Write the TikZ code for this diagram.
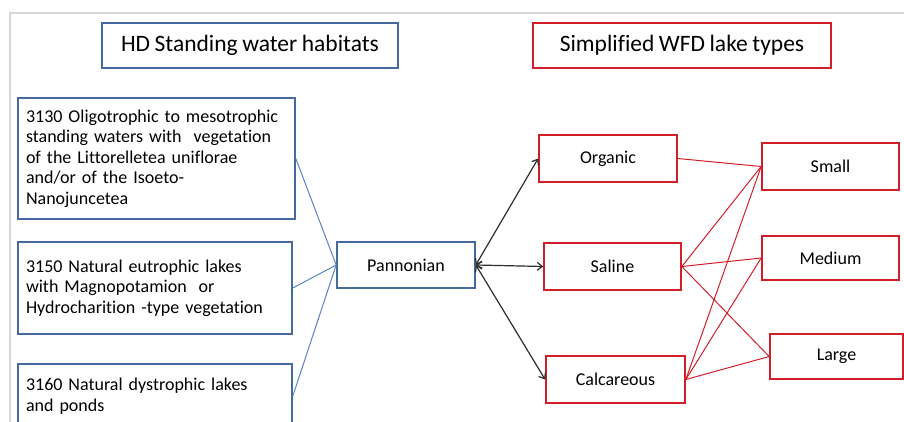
\documentclass[tikz,border=0pt]{standalone}
\usepackage{fontspec}
\setmainfont{Carlito}[Ligatures=NoCommon,WordSpace=0.85]
\usetikzlibrary{arrows.meta}
\definecolor{boxblue}{RGB}{70,106,160}
\definecolor{lineblue}{RGB}{90,130,195}
\definecolor{boxred}{RGB}{210,30,40}
\definecolor{framegrey}{RGB}{216,216,216}
\definecolor{arrowgrey}{RGB}{45,45,45}
\tikzset{
  titlefont/.style={font=\fontsize{23.5}{28}\selectfont},
  smallfont/.style={font=\fontsize{18}{20.5}\selectfont},
  bluebox/.style={draw=boxblue, line width=1.6pt, rectangle, inner sep=0pt},
  redbox/.style={draw=boxred, line width=1.7pt, rectangle, inner sep=0pt},
  hdbox/.style={bluebox, smallfont, align=left, inner xsep=8pt},
  bluelink/.style={draw=lineblue, line width=1pt},
  redlink/.style={draw=boxred, line width=1pt},
  blacklink/.style={draw=arrowgrey, line width=1.2pt, {Straight Barb[length=5pt,width=8pt]}-{Straight Barb[length=5pt,width=8pt]}},
}
\begin{document}
\begin{tikzpicture}[x=1pt,y=-1pt]
\useasboundingbox (0,0) rectangle (904,422);
\clip (0,0) rectangle (904,422);
% grey frame
\draw[framegrey, line width=2pt] (10,430) -- (10,13) -- (910,13);

% titles
\node[bluebox, titlefont, minimum width=296pt, minimum height=45pt] (hdtitle) at (250,45.5) {HD Standing water habitats};
\node[redbox, titlefont, minimum width=298pt, minimum height=45pt] (wfdtitle) at (682,45.5) {Simplified WFD lake types};

% habitat boxes
\node[hdbox, text width=261pt, minimum height=121pt] (h3130) at (156.5,158.5)
  {3130 Oligotrophic to mesotrophic\\standing waters with\ \ vegetation\\of the Littorelletea uniflorae\\and/or of the Isoeto-\\Nanojuncetea};
\node[hdbox, text width=258pt, minimum height=92pt] (h3150) at (155,288)
  {3150 Natural eutrophic lakes\\with Magnopotamion\ \ or\\Hydrocharition -type vegetation};
\node[hdbox, text width=258pt, minimum height=64pt] (h3160) at (155,396)
  {3160 Natural dystrophic lakes\\and ponds};

% Pannonian
\node[bluebox, smallfont, minimum width=138pt, minimum height=46pt] (pan) at (406,265) {Pannonian};

% lake types
\node[redbox, smallfont, minimum width=138pt, minimum height=47pt] (org) at (608,158.5) {Organic};
\node[redbox, smallfont, minimum width=137pt, minimum height=47pt] (sal) at (612.5,266.5) {Saline};
\node[redbox, smallfont, minimum width=139pt, minimum height=47pt] (cal) at (615.5,379.5) {Calcareous};

% sizes
\node[redbox, smallfont, minimum width=137pt, minimum height=47pt] (small) at (830.5,166.5) {Small};
\node[redbox, smallfont, minimum width=137pt, minimum height=44pt] (medium) at (830.5,258) {Medium};
\node[redbox, smallfont, minimum width=133pt, minimum height=45pt] (large) at (836.5,356.5) {Large};

% blue links
\draw[bluelink] (h3130.east) -- (pan.west);
\draw[bluelink] (h3150.east) -- (pan.west);
\draw[bluelink] (h3160.east) -- (pan.west);

% black arrows
\draw[blacklink] (pan.east) -- (org.west);
\draw[blacklink] (pan.east) -- (sal.west);
\draw[blacklink] (pan.east) -- (cal.west);

% red links
\draw[redlink] (org.east) -- (small.west);
\draw[redlink] (sal.east) -- (small.west);
\draw[redlink] (sal.east) -- (medium.west);
\draw[redlink] (sal.east) -- (large.west);
\draw[redlink] (cal.east) -- (small.west);
\draw[redlink] (cal.east) -- (medium.west);
\draw[redlink] (cal.east) -- (large.west);
\end{tikzpicture}
\end{document}
